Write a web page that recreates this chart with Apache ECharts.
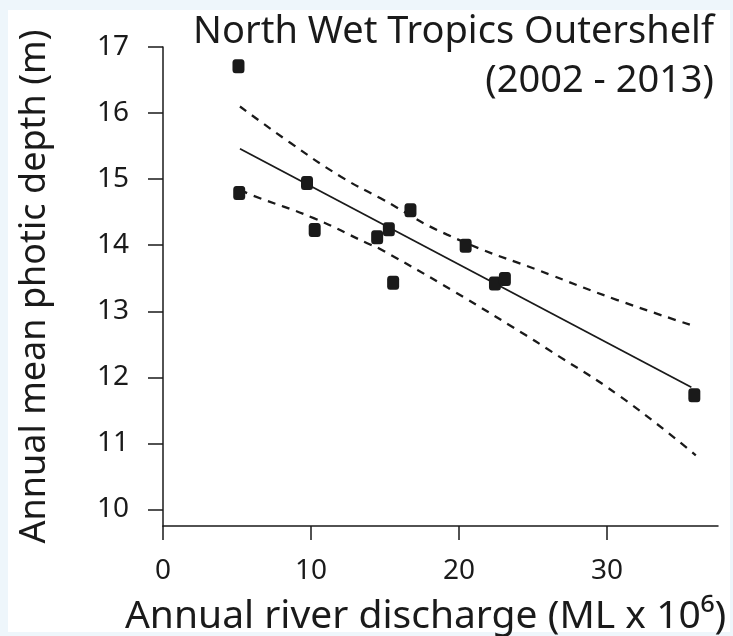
<!DOCTYPE html>
<html>
<head>
<meta charset="utf-8">
<title>North Wet Tropics Outershelf</title>
<script src="https://cdn.jsdelivr.net/npm/echarts@6/dist/echarts.min.js"></script>
<style>
  html, body { margin: 0; padding: 0; background: #eef6fb; }
  #chart { width: 733px; height: 636px; }
</style>
</head>
<body>
<div id="chart"></div>
<script>
// yearly points, 2002 - 2013
const discharge = [5.1, 5.15, 9.73, 10.25, 14.47, 15.26, 15.55, 16.72, 20.45, 22.43, 23.1, 35.9]
const photicDepth = [16.71, 14.79, 14.94, 14.23, 14.12, 14.24, 13.43, 14.53, 13.99, 13.42, 13.49, 11.73]

// fitted line
const fitX = [5.2, 35.7]
const fitY = [15.46, 11.85]

// confidence bands
const upperX = [5.2, 8.6, 12.0, 14.7, 19.2, 26.2, 30.7, 35.7]
const upperY = [16.10, 15.55, 15.04, 14.71, 14.16, 13.55, 13.17, 12.79]
const lowerX = [5.2, 6.1, 10.18, 13.8, 14.7, 19.66, 24.5, 25.9, 30.9, 36.0]
const lowerY = [14.84, 14.75, 14.41, 14.03, 13.94, 13.30, 12.64, 12.44, 11.71, 10.82]

const xTicks = [0, 10, 20, 30]
const yTicks = [10, 11, 12, 13, 14, 15, 16, 17]

const pairs = (xs, ys) => xs.map((x, i) => [x, ys[i]])

const font = 'Noto Sans'
const ink = '#1a1a1a'

const chart = echarts.init(document.getElementById('chart'))

const option = {
  backgroundColor: '#eef6fb',
  animation: false,
  graphic: [
    {
      type: 'rect',
      z: -10,
      silent: true,
      shape: { x: 8, y: 10, width: 722, height: 622 },
      style: { fill: '#ffffff' }
    }
  ],
  title: [
    {
      text: 'North Wet Tropics Outershelf',
      right: 14,
      top: 8,
      textStyle: { fontFamily: font, fontSize: 38, fontWeight: 'normal', color: ink }
    },
    {
      text: '(2002 - 2013)',
      right: 14,
      top: 57,
      textStyle: { fontFamily: font, fontSize: 38, fontWeight: 'normal', color: ink }
    }
  ],
  grid: {
    left: 163,
    right: 15,
    top: 47,
    bottom: 110,
    outerBoundsMode: 'none'
  },
  xAxis: {
    type: 'value',
    min: 0,
    max: 37.5,
    name: 'Annual river discharge (ML x 10⁶)',
    nameLocation: 'middle',
    nameGap: 71,
    nameTextStyle: { fontFamily: font, fontSize: 39, color: ink, padding: [0, 30, 0, 0] },
    axisLine: { lineStyle: { color: ink, width: 1.5 } },
    axisTick: { length: 14, customValues: xTicks, lineStyle: { color: ink, width: 1.5 } },
    axisLabel: { customValues: xTicks, margin: 31, fontFamily: font, fontSize: 28, color: ink },
    splitLine: { show: false }
  },
  yAxis: {
    type: 'value',
    min: 9.75,
    max: 17,
    name: 'Annual mean photic depth (m)',
    nameLocation: 'middle',
    nameGap: 110,
    nameTextStyle: { fontFamily: font, fontSize: 36, color: ink },
    axisLine: { show: true, lineStyle: { color: ink, width: 1.5 } },
    axisTick: { show: true, length: 15, customValues: yTicks, lineStyle: { color: ink, width: 1.5 } },
    axisLabel: { customValues: yTicks, margin: 34, fontFamily: font, fontSize: 28, color: ink },
    splitLine: { show: false }
  },
  series: [
    {
      name: 'upper',
      type: 'line',
      data: pairs(upperX, upperY),
      smooth: true,
      showSymbol: false,
      lineStyle: { color: ink, width: 2.3, type: [8, 7] }
    },
    {
      name: 'lower',
      type: 'line',
      data: pairs(lowerX, lowerY),
      smooth: true,
      showSymbol: false,
      lineStyle: { color: ink, width: 2.3, type: [8, 7] }
    },
    {
      name: 'fit',
      type: 'line',
      data: pairs(fitX, fitY),
      showSymbol: false,
      lineStyle: { color: ink, width: 1.8 }
    },
    {
      name: 'photic depth',
      type: 'scatter',
      data: pairs(discharge, photicDepth),
      symbol: 'roundRect',
      symbolSize: [12, 14],
      itemStyle: { color: ink, opacity: 1 },
      z: 5
    }
  ]
}

chart.setOption(option)
</script>
</body>
</html>
